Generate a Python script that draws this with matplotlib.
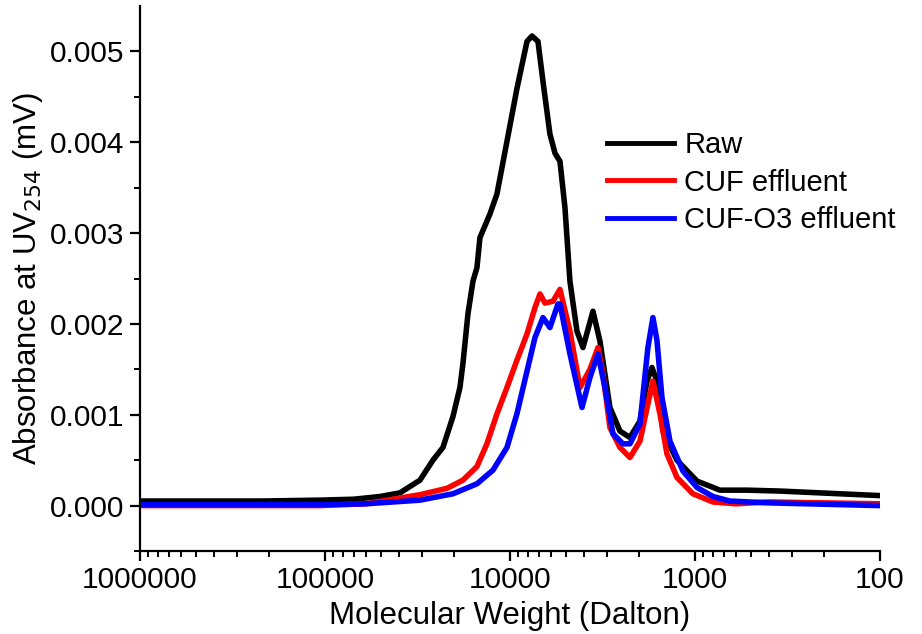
"""
GPC chromatogram: UV254 absorbance vs molecular weight
"""

import numpy as np
import matplotlib
matplotlib.use("Agg")
import matplotlib.pyplot as plt

plt.rcParams['font.family'] = ['Liberation Sans', 'DejaVu Sans']

# values
raw_mw = [1000000, 474000, 224600, 106400, 70000, 50420, 39320, 30660, 26080,
          23030, 20330, 18640, 17960, 16870, 15850, 15080, 14530, 12830,
          11760, 10380, 9170, 8090, 7600, 7056, 6630, 6080, 5710, 5366, 5043,
          4740, 4343, 4031, 3559, 3263, 2881, 2543, 2246, 1983, 1817, 1708,
          1605, 1489, 1251, 975, 733, 524, 347, 100]
raw_abs = [0.00005, 0.00005, 0.00005, 0.00006, 0.00007, 0.00010, 0.00014,
           0.00028, 0.00050, 0.00064, 0.00098, 0.00130, 0.00156, 0.00211,
           0.00247, 0.00262, 0.00295, 0.00321, 0.00343, 0.00401, 0.00459,
           0.00511, 0.00517, 0.00511, 0.00467, 0.00409, 0.00388, 0.00379,
           0.00328, 0.00247, 0.00192, 0.00174, 0.00214, 0.00181, 0.00108,
           0.00082, 0.00075, 0.00093, 0.00137, 0.00152, 0.00137, 0.00082,
           0.00050, 0.00027, 0.00017, 0.00017, 0.00016, 0.00011]

cuf_mw = [1000000, 474000, 224600, 106400, 60000, 30660, 21900, 17960, 15080,
          13320, 11760, 10380, 9170, 8090, 7325, 6880, 6470, 5855, 5366, 4740,
          4183, 3695, 3344, 3143, 2881, 2543, 2246, 1983, 1796, 1687, 1546,
          1417, 1251, 1025, 800, 600, 400, 100]
cuf_abs = [0.0, 0.0, 0.0, 0.0, 0.00002, 0.00012, 0.00019, 0.00028, 0.00043,
           0.00068, 0.00101, 0.00130, 0.00160, 0.00189, 0.00218, 0.00233,
           0.00223, 0.00225, 0.00238, 0.00192, 0.00130, 0.00150, 0.00174,
           0.00145, 0.00086, 0.00064, 0.00053, 0.00071, 0.00112, 0.00137,
           0.00101, 0.00057, 0.00031, 0.00013, 0.00004, 0.00002, 0.00004,
           0.00002]

o3_mw = [1000000, 474000, 224600, 106400, 60000, 30660, 20330, 15080, 12360,
         10380, 9170, 8090, 7325, 6630, 6080, 5500, 5366, 4740, 4080, 3695,
         3344, 3066, 2775, 2450, 2246, 1983, 1796, 1687, 1605, 1508, 1365,
         1161, 975, 800, 647, 400, 100]
o3_abs = [0.00001, 0.00001, 0.00001, 0.00001, 0.00002, 0.00006, 0.00013,
          0.00024, 0.00039, 0.00064, 0.00101, 0.00148, 0.00185, 0.00207,
          0.00196, 0.00222, 0.00222, 0.00167, 0.00108, 0.00141, 0.00167,
          0.00130, 0.00079, 0.00068, 0.00068, 0.00090, 0.00174, 0.00207,
          0.00182, 0.00119, 0.00071, 0.00038, 0.00020, 0.00010, 0.00005,
          0.00003, 0.0]

series = [("Raw", raw_mw, raw_abs, "black"),
          ("CUF effluent", cuf_mw, cuf_abs, "#ff0000"),
          ("CUF-O3 effluent", o3_mw, o3_abs, "#0000ff")]

fig = plt.figure(figsize=(9.22, 6.34), dpi=100)
ax = fig.add_axes([0.1518, 0.1309, 0.8026, 0.8596])

for name, mw, ab, col in series:
    ax.plot(mw, ab, color=col, lw=4, label=name, solid_joinstyle='round')

ax.set_xscale('log')
ax.set_xlim(1000000, 100)
ax.set_ylim(-0.0005, 0.0055)
ax.set_xticks([1000000, 100000, 10000, 1000, 100])
ax.set_xticklabels(["1000000", "100000", "10000", "1000", "100"])
ax.set_yticks([0.0, 0.001, 0.002, 0.003, 0.004, 0.005])
ax.set_yticklabels(["0.000", "0.001", "0.002", "0.003", "0.004", "0.005"])
ax.set_yticks(np.arange(-0.0005, 0.0055, 0.001), minor=True)

for s in ['top', 'right']:
    ax.spines[s].set_visible(False)
for s in ['left', 'bottom']:
    ax.spines[s].set_linewidth(1.6)
ax.tick_params(which='major', direction='out', length=7, width=1.6,
               labelsize=21.5, pad=4)
ax.tick_params(which='minor', direction='out', length=4.5, width=1.4)

ax.set_xlabel("Molecular Weight (Dalton)", fontsize=22.5, labelpad=5)
ax.set_ylabel("Absorbance at UV$_{254}$ (mV)", fontsize=22.5, labelpad=4)

leg = ax.legend(loc='upper left', bbox_to_anchor=(607 / 922, 1 - 131 / 634),
                bbox_transform=fig.transFigure, frameon=False, fontsize=21,
                handlelength=2.3, handletextpad=0.35, labelspacing=0.33,
                borderpad=0, borderaxespad=0)
for ln in leg.get_lines():
    ln.set_linewidth(3.5)

fig.savefig("out.png", dpi=100)
